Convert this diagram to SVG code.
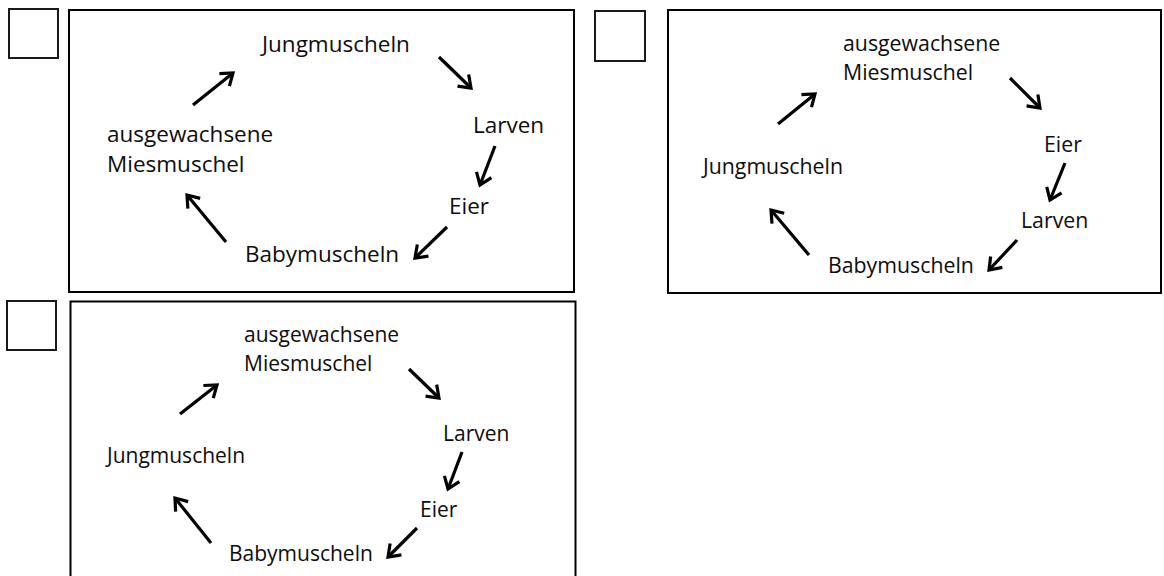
<svg xmlns="http://www.w3.org/2000/svg" width="1164" height="576" viewBox="0 0 1164 576">
  <style>
    .frame { fill: none; stroke: #000; stroke-width: 2; }
    .check { fill: none; stroke: #1a1a1a; stroke-width: 2; }
    .lbl { font-family: "Open Sans", "Noto Sans", sans-serif; font-size: 22.5px; fill: #0d0d0d; }
    #panel2 .lbl { font-size: 21.3px; }
    #panel3 .lbl { font-size: 21px; }
    .arr { fill: none; stroke: #000; stroke-width: 3.2; marker-end: url(#head); }
  </style>
  <defs>
    <marker id="head" markerUnits="userSpaceOnUse" orient="auto" markerWidth="30" markerHeight="30" refX="0" refY="0" viewBox="-15 -15 30 30" overflow="visible">
      <path d="M-11,-8 L0,0 L-11,8" fill="none" stroke="#000" stroke-width="3.2" stroke-linejoin="miter"/>
    </marker>
  </defs>
  <rect width="1164" height="576" fill="#fff"/>

  <!-- Panel 1 -->
  <g id="panel1">
    <rect id="p1-checkbox" class="check" x="9" y="9" width="49" height="49"/>
    <rect id="p1-frame" class="frame" x="69" y="10" width="505" height="282"/>
    <g id="p1-jungmuscheln"><text class="lbl" x="262" y="52">Jungmuscheln</text></g>
    <g id="p1-larven"><text class="lbl" x="473" y="133">Larven</text></g>
    <g id="p1-eier"><text class="lbl" x="449" y="214">Eier</text></g>
    <g id="p1-babymuscheln"><text class="lbl" x="245" y="262">Babymuscheln</text></g>
    <g id="p1-miesmuschel"><text class="lbl" x="107" y="142">ausgewachsene</text><text class="lbl" x="107" y="172">Miesmuschel</text></g>
    <g id="p1-connectors">
      <line class="arr" x1="193" y1="105" x2="233" y2="73"/>
      <line class="arr" x1="439" y1="57" x2="471" y2="88"/>
      <line class="arr" x1="495" y1="146" x2="480" y2="185"/>
      <line class="arr" x1="447" y1="227" x2="415" y2="258"/>
      <line class="arr" x1="226" y1="242" x2="187" y2="195"/>
    </g>
  </g>

  <!-- Panel 2 -->
  <g id="panel2">
    <rect id="p2-checkbox" class="check" x="595" y="11" width="50" height="50"/>
    <rect id="p2-frame" class="frame" x="668" y="10" width="493" height="283"/>
    <g id="p2-miesmuschel"><text class="lbl" x="843" y="51">ausgewachsene</text><text class="lbl" x="843" y="80">Miesmuschel</text></g>
    <g id="p2-eier"><text class="lbl" x="1044" y="152">Eier</text></g>
    <g id="p2-larven"><text class="lbl" x="1021" y="228">Larven</text></g>
    <g id="p2-babymuscheln"><text class="lbl" x="828" y="273">Babymuscheln</text></g>
    <g id="p2-jungmuscheln"><text class="lbl" x="703" y="174">Jungmuscheln</text></g>
    <g id="p2-connectors">
      <line class="arr" x1="778" y1="124" x2="815" y2="94"/>
      <line class="arr" x1="1010" y1="78" x2="1040" y2="108"/>
      <line class="arr" x1="1065" y1="163" x2="1050" y2="200"/>
      <line class="arr" x1="1017" y1="240" x2="989" y2="270"/>
      <line class="arr" x1="809" y1="255" x2="771" y2="210"/>
    </g>
  </g>

  <!-- Panel 3 -->
  <g id="panel3">
    <rect id="p3-checkbox" class="check" x="7" y="301" width="49" height="49"/>
    <rect id="p3-frame" class="frame" x="70.5" y="301.5" width="505" height="290"/>
    <g id="p3-miesmuschel"><text class="lbl" x="244" y="342">ausgewachsene</text><text class="lbl" x="244" y="371">Miesmuschel</text></g>
    <g id="p3-larven"><text class="lbl" x="443" y="441">Larven</text></g>
    <g id="p3-eier"><text class="lbl" x="420" y="517">Eier</text></g>
    <g id="p3-babymuscheln"><text class="lbl" x="229" y="561">Babymuscheln</text></g>
    <g id="p3-jungmuscheln"><text class="lbl" x="107" y="463">Jungmuscheln</text></g>
    <g id="p3-connectors">
      <line class="arr" x1="180" y1="414" x2="217" y2="385"/>
      <line class="arr" x1="409" y1="369" x2="439" y2="398"/>
      <line class="arr" x1="462" y1="452" x2="448" y2="489"/>
      <line class="arr" x1="417" y1="528" x2="388" y2="557"/>
      <line class="arr" x1="211" y1="543" x2="175" y2="498"/>
    </g>
  </g>
</svg>
